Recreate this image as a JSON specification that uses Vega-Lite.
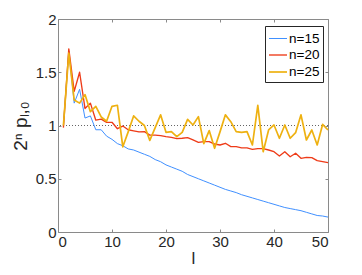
{
  "$schema": "https://vega.github.io/schema/vega-lite/v6.json",
  "width": 270,
  "height": 213,
  "autosize": "none",
  "padding": {"left": 58, "top": 19, "right": 34, "bottom": 43},
  "background": "white",
  "config": {
    "view": {"stroke": "#8a8a8a", "strokeWidth": 1},
    "axis": {
      "grid": false,
      "domain": false,
      "tickColor": "#8a8a8a",
      "tickSize": -3,
      "labelFont": "Liberation Sans",
      "labelFontSize": 15,
      "labelColor": "#262626",
      "labelPadding": 5,
      "titleFont": "Liberation Sans",
      "titleFontSize": 17,
      "titleFontWeight": "normal",
      "titleColor": "#262626"
    },
    "legend": {
      "orient": "none",
      "legendX": 207,
      "legendY": 7,
      "strokeColor": "#262626",
      "fillColor": "white",
      "padding": 3,
      "symbolType": "stroke",
      "symbolSize": 324,
      "labelFont": "Liberation Sans",
      "labelFontSize": 13.5,
      "labelColor": "#000000",
      "labelOffset": 1,
      "rowPadding": -1.5,
      "cornerRadius": 0
    }
  },
  "datasets": {
    "d": [
      {"l": 1, "n=15": 1.0, "n=20": 0.98, "n=25": 1.0},
      {"l": 2, "n=15": 1.7, "n=20": 1.72, "n=25": 1.68},
      {"l": 3, "n=15": 1.21, "n=20": 1.32, "n=25": 1.24},
      {"l": 4, "n=15": 1.34, "n=20": 1.5, "n=25": 1.21},
      {"l": 5, "n=15": 1.07, "n=20": 1.16, "n=25": 1.29},
      {"l": 6, "n=15": 1.09, "n=20": 1.21, "n=25": 1.13},
      {"l": 7, "n=15": 0.96, "n=20": 1.05, "n=25": 1.18},
      {"l": 8, "n=15": 0.96, "n=20": 1.06, "n=25": 1.08},
      {"l": 9, "n=15": 0.9, "n=20": 1.03, "n=25": 1.04},
      {"l": 10, "n=15": 0.87, "n=20": 1.03, "n=25": 1.18},
      {"l": 11, "n=15": 0.83, "n=20": 0.97, "n=25": 1.19},
      {"l": 12, "n=15": 0.81, "n=20": 0.995, "n=25": 0.8},
      {"l": 13, "n=15": 0.78, "n=20": 0.96, "n=25": 0.94},
      {"l": 14, "n=15": 0.77, "n=20": 0.95, "n=25": 1.09},
      {"l": 15, "n=15": 0.75, "n=20": 0.94, "n=25": 1.04},
      {"l": 16, "n=15": 0.73, "n=20": 0.942, "n=25": 1.0},
      {"l": 17, "n=15": 0.71, "n=20": 0.91, "n=25": 0.86},
      {"l": 18, "n=15": 0.68, "n=20": 0.91, "n=25": 0.98},
      {"l": 19, "n=15": 0.66, "n=20": 0.905, "n=25": 1.1},
      {"l": 20, "n=15": 0.63, "n=20": 0.895, "n=25": 0.936},
      {"l": 21, "n=15": 0.61, "n=20": 0.889, "n=25": 0.943},
      {"l": 22, "n=15": 0.59, "n=20": 0.877, "n=25": 0.895},
      {"l": 23, "n=15": 0.57, "n=20": 0.88, "n=25": 0.936},
      {"l": 24, "n=15": 0.54, "n=20": 0.886, "n=25": 1.058},
      {"l": 25, "n=15": 0.52, "n=20": 0.864, "n=25": 1.005},
      {"l": 26, "n=15": 0.5, "n=20": 0.842, "n=25": 1.083},
      {"l": 27, "n=15": 0.48, "n=20": 0.848, "n=25": 0.83},
      {"l": 28, "n=15": 0.46, "n=20": 0.848, "n=25": 0.952},
      {"l": 29, "n=15": 0.44, "n=20": 0.826, "n=25": 0.786},
      {"l": 30, "n=15": 0.42, "n=20": 0.817, "n=25": 0.94},
      {"l": 31, "n=15": 0.4, "n=20": 0.833, "n=25": 1.1},
      {"l": 32, "n=15": 0.385, "n=20": 0.802, "n=25": 1.036},
      {"l": 33, "n=15": 0.37, "n=20": 0.802, "n=25": 0.943},
      {"l": 34, "n=15": 0.35, "n=20": 0.79, "n=25": 0.936},
      {"l": 35, "n=15": 0.335, "n=20": 0.79, "n=25": 0.942},
      {"l": 36, "n=15": 0.32, "n=20": 0.776, "n=25": 0.817},
      {"l": 37, "n=15": 0.305, "n=20": 0.783, "n=25": 1.19},
      {"l": 38, "n=15": 0.29, "n=20": 0.783, "n=25": 0.754},
      {"l": 39, "n=15": 0.275, "n=20": 0.77, "n=25": 0.958},
      {"l": 40, "n=15": 0.26, "n=20": 0.754, "n=25": 1.005},
      {"l": 41, "n=15": 0.245, "n=20": 0.714, "n=25": 0.88},
      {"l": 42, "n=15": 0.23, "n=20": 0.754, "n=25": 1.005},
      {"l": 43, "n=15": 0.22, "n=20": 0.707, "n=25": 0.88},
      {"l": 44, "n=15": 0.21, "n=20": 0.739, "n=25": 0.933},
      {"l": 45, "n=15": 0.2, "n=20": 0.692, "n=25": 1.1},
      {"l": 46, "n=15": 0.185, "n=20": 0.7, "n=25": 0.864},
      {"l": 47, "n=15": 0.17, "n=20": 0.698, "n=25": 0.958},
      {"l": 48, "n=15": 0.155, "n=20": 0.67, "n=25": 0.817},
      {"l": 49, "n=15": 0.15, "n=20": 0.66, "n=25": 1.01},
      {"l": 50, "n=15": 0.14, "n=20": 0.651, "n=25": 0.958}
    ]
  },
  "layer": [
    {
      "data": {"values": [{"ref": 1}]},
      "mark": {"type": "rule", "strokeDash": [1, 2], "color": "#222222", "strokeWidth": 0.7},
      "encoding": {
        "y": {"field": "ref", "type": "quantitative", "scale": {"domain": [0, 2], "nice": false}, "axis": null}
      }
    },
    {
      "data": {"name": "d"},
      "transform": [{"fold": ["n=15", "n=20", "n=25"], "as": ["series", "value"]}],
      "mark": {"type": "line", "strokeJoin": "round"},
      "encoding": {
        "x": {
          "field": "l", "type": "quantitative",
          "scale": {"domain": [0, 50], "nice": false},
          "axis": {"values": [0, 10, 20, 30, 40, 50], "title": "l", "titlePadding": 1, "titleColor": "#262626", "titleFontSize": 17}
        },
        "y": {
          "field": "value", "type": "quantitative",
          "scale": {"domain": [0, 2], "nice": false},
          "axis": {"values": [0, 0.5, 1, 1.5, 2], "format": "~g", "title": "2ⁿ pₗ,₀", "titlePadding": 5, "titleFontSize": 19, "titleColor": "#262626"}
        },
        "color": {
          "field": "series", "type": "ordinal",
          "scale": {"domain": ["n=15", "n=20", "n=25"], "range": ["#4090FF", "#EE3B18", "#EEB111"]},
          "legend": {"title": null}
        },
        "strokeWidth": {
          "field": "series", "type": "ordinal",
          "scale": {"domain": ["n=15", "n=20", "n=25"], "range": [1, 1.7, 2.9]},
          "legend": {"title": null}
        }
      }
    },
    {
      "data": {"name": "d"},
      "transform": [{"fold": ["n=15", "n=20", "n=25"], "as": ["series", "value"]}],
      "mark": {"type": "line", "opacity": 0},
      "encoding": {
        "x": {
          "field": "l", "type": "quantitative",
          "scale": {"domain": [0, 50], "nice": false},
          "axis": {"orient": "top", "values": [0, 10, 20, 30, 40, 50], "labels": false, "title": null}
        },
        "y": {
          "field": "value", "type": "quantitative",
          "scale": {"domain": [0, 2], "nice": false},
          "axis": {"orient": "right", "values": [0, 0.5, 1, 1.5, 2], "labels": false, "title": null}
        },
        "detail": {"field": "series"}
      }
    }
  ],
  "resolve": {"axis": {"x": "independent", "y": "independent"}}
}
